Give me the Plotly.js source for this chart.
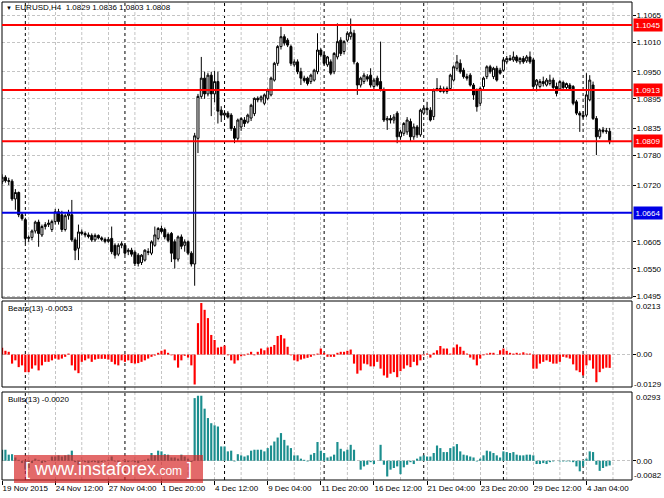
<!DOCTYPE html>
<html>
<head>
<meta charset="utf-8">
<script src="https://cdn.plot.ly/plotly-3.0.1.min.js"></script>
<style>
  html, body { margin: 0; padding: 0; background: #fff; }
  #chart { width: 664px; height: 498px; }
</style>
</head>
<body>
<div id="chart"></div>
<script>
// EURUSD H4, 19 Nov 2015 - 5 Jan 2016, one entry per bar
const open = [
  1.0727,1.0736,1.0729,1.0728,1.0692,1.0705,1.0660,1.0650,1.0612,1.0614,
  1.0627,1.0645,1.0619,1.0636,1.0640,1.0630,1.0646,1.0666,1.0660,1.0630,
  1.0658,1.0660,1.0609,1.0592,1.0625,1.0622,1.0619,1.0618,1.0609,1.0618,
  1.0613,1.0610,1.0606,1.0612,1.0598,1.0580,1.0598,1.0598,1.0585,1.0588,
  1.0584,1.0578,1.0563,1.0568,1.0585,1.0582,1.0598,1.0612,1.0632,1.0630,
  1.0620,1.0622,1.0605,1.0570,1.0615,1.0598,1.0605,1.0582,1.0560,1.0815,
  1.0900,1.0937,1.0905,1.0943,1.0905,1.0930,1.0872,1.0862,1.0866,1.0862,
  1.0835,1.0815,1.0838,1.0852,1.0848,1.0856,1.0865,1.0896,1.0893,1.0886,
  1.0896,1.0903,1.0933,1.0967,1.1001,1.1021,1.1014,1.1001,1.0964,1.0970,
  1.0950,1.0937,1.0937,1.0930,1.0933,1.0950,1.0994,1.0984,1.0964,1.0970,
  1.0950,1.0980,1.1014,1.0991,1.1014,1.1021,1.1028,1.0967,1.0923,1.0930,
  1.0940,1.0943,1.0920,1.0937,1.0930,1.0913,1.0852,1.0855,1.0852,1.0866,
  1.0818,1.0825,1.0828,1.0849,1.0818,1.0838,1.0822,1.0866,1.0876,1.0872,
  1.0859,1.0913,1.0916,1.0910,1.0910,1.0916,1.0933,1.0957,1.0967,1.0953,
  1.0940,1.0943,1.0923,1.0913,1.0886,1.0920,1.0940,1.0960,1.0940,1.0957,
  1.0953,1.0953,1.0970,1.0977,1.0974,1.0980,1.0970,1.0977,1.0972,1.0980,
  1.0974,1.0923,1.0920,1.0930,1.0923,1.0926,1.0933,1.0920,1.0915,1.0928,
  1.0918,1.0923,1.0920,1.0889,1.0866,1.0862,1.0862,1.0893,1.0923,1.0855,
  1.0818,1.0832,1.0829,1.0829
];
const high = [
  1.0742,1.0740,1.0735,1.0732,1.0712,1.0707,1.0664,1.0654,1.0618,1.0630,
  1.0648,1.0650,1.0640,1.0645,1.0650,1.0650,1.0672,1.0672,1.0668,1.0662,
  1.0670,1.0690,1.0614,1.0640,1.0630,1.0626,1.0624,1.0622,1.0622,1.0620,
  1.0616,1.0614,1.0615,1.0636,1.0602,1.0602,1.0606,1.0602,1.0592,1.0593,
  1.0588,1.0582,1.0580,1.0590,1.0592,1.0608,1.0636,1.0635,1.0638,1.0634,
  1.0624,1.0625,1.0610,1.0618,1.0620,1.0610,1.0608,1.0586,1.0826,1.0905,
  1.0980,1.0950,1.0948,1.0950,1.0952,1.0950,1.0880,1.0872,1.0870,1.0866,
  1.0840,1.0855,1.0858,1.0858,1.0865,1.0885,1.0898,1.0900,1.0902,1.0906,
  1.0916,1.0940,1.0970,1.1004,1.1041,1.1026,1.1018,1.1005,1.0975,1.0975,
  1.0958,1.0942,1.0940,1.0946,1.0956,1.1028,1.0998,1.0990,1.0982,1.0975,
  1.0990,1.1048,1.1020,1.1014,1.1032,1.1058,1.1035,1.0970,1.0940,1.0948,
  1.0945,1.0957,1.0937,1.0942,1.1011,1.0918,1.0860,1.0862,1.0864,1.0870,
  1.0832,1.0848,1.0858,1.0855,1.0845,1.0842,1.0875,1.0880,1.0889,1.0878,
  1.0916,1.0937,1.0922,1.0920,1.0920,1.0946,1.0963,1.0984,1.0975,1.0958,
  1.0946,1.0947,1.0927,1.0916,1.0920,1.0940,1.0963,1.0964,1.0960,1.0962,
  1.0958,1.0978,1.0982,1.0984,1.0991,1.0984,1.0980,1.0982,1.0984,1.0991,
  1.0978,1.0935,1.0935,1.0940,1.0937,1.0944,1.0938,1.0928,1.0933,1.0932,
  1.0928,1.0927,1.0923,1.0893,1.0870,1.0870,1.0947,1.0943,1.0930,1.0860,
  1.0835,1.0838,1.0836,1.0836
];
const low = [
  1.0722,1.0725,1.0720,1.0688,1.0670,1.0655,1.0648,1.0602,1.0605,1.0608,
  1.0622,1.0595,1.0615,1.0630,1.0635,1.0625,1.0640,1.0640,1.0625,1.0626,
  1.0650,1.0605,1.0568,1.0568,1.0618,1.0614,1.0612,1.0605,1.0605,1.0610,
  1.0606,1.0602,1.0603,1.0580,1.0571,1.0576,1.0592,1.0578,1.0578,1.0575,
  1.0556,1.0555,1.0558,1.0565,1.0578,1.0578,1.0595,1.0608,1.0622,1.0610,
  1.0604,1.0564,1.0551,1.0565,1.0590,1.0585,1.0578,1.0555,1.0516,1.0785,
  1.0895,1.0895,1.0900,1.0860,1.0888,1.0845,1.0848,1.0858,1.0855,1.0830,
  1.0805,1.0810,1.0830,1.0838,1.0845,1.0850,1.0860,1.0888,1.0888,1.0882,
  1.0892,1.0900,1.0930,1.0962,1.0995,1.1003,1.1000,1.0962,1.0960,1.0945,
  1.0923,1.0928,1.0922,1.0925,1.0930,1.0945,1.0980,1.0963,1.0960,1.0943,
  1.0945,1.0975,1.0982,1.0985,1.1010,1.1015,1.0965,1.0903,1.0918,1.0925,
  1.0930,1.0918,1.0915,1.0920,1.0910,1.0848,1.0832,1.0845,1.0845,1.0805,
  1.0812,1.0820,1.0822,1.0808,1.0812,1.0816,1.0818,1.0862,1.0862,1.0849,
  1.0852,1.0910,1.0908,1.0906,1.0905,1.0912,1.0930,1.0952,1.0946,1.0936,
  1.0932,1.0920,1.0893,1.0869,1.0880,1.0915,1.0935,1.0946,1.0935,1.0930,
  1.0944,1.0950,1.0966,1.0972,1.0970,1.0968,1.0965,1.0966,1.0968,1.0966,
  1.0915,1.0910,1.0916,1.0920,1.0920,1.0922,1.0914,1.0900,1.0912,1.0914,
  1.0915,1.0913,1.0882,1.0862,1.0828,1.0855,1.0858,1.0890,1.0852,1.0781,
  1.0814,1.0825,1.0824,1.0803
];
const close = [
  1.0736,1.0729,1.0728,1.0692,1.0705,1.0660,1.0652,1.0612,1.0614,1.0627,
  1.0645,1.0622,1.0636,1.0640,1.0643,1.0646,1.0666,1.0646,1.0630,1.0658,
  1.0663,1.0609,1.0588,1.0625,1.0622,1.0619,1.0616,1.0609,1.0618,1.0613,
  1.0610,1.0606,1.0610,1.0585,1.0578,1.0598,1.0601,1.0582,1.0588,1.0580,
  1.0561,1.0561,1.0578,1.0588,1.0584,1.0605,1.0619,1.0632,1.0626,1.0615,
  1.0608,1.0582,1.0570,1.0615,1.0596,1.0605,1.0582,1.0560,1.0820,1.0900,
  1.0937,1.0905,1.0943,1.0905,1.0930,1.0870,1.0862,1.0866,1.0858,1.0835,
  1.0815,1.0852,1.0855,1.0845,1.0862,1.0882,1.0896,1.0893,1.0899,1.0903,
  1.0913,1.0937,1.0967,1.1001,1.1021,1.1008,1.1004,1.0967,1.0970,1.0950,
  1.0937,1.0932,1.0926,1.0943,1.0953,1.0994,1.0984,1.0967,1.0980,1.0947,
  1.0987,1.1011,1.0987,1.1011,1.1028,1.1030,1.0970,1.0923,1.0937,1.0943,
  1.0935,1.0923,1.0933,1.0923,1.0913,1.0852,1.0855,1.0852,1.0858,1.0818,
  1.0828,1.0845,1.0852,1.0818,1.0838,1.0822,1.0872,1.0876,1.0873,1.0852,
  1.0913,1.0916,1.0910,1.0915,1.0916,1.0943,1.0960,1.0970,1.0950,1.0940,
  1.0937,1.0923,1.0903,1.0879,1.0916,1.0937,1.0960,1.0950,1.0957,1.0933,
  1.0947,1.0974,1.0977,1.0974,1.0980,1.0972,1.0977,1.0970,1.0980,1.0970,
  1.0920,1.0933,1.0930,1.0926,1.0933,1.0933,1.0918,1.0906,1.0930,1.0918,
  1.0926,1.0916,1.0886,1.0866,1.0862,1.0859,1.0903,1.0933,1.0855,1.0818,
  1.0832,1.0829,1.0830,1.0808
];

// Bears Power (13) and Bulls Power (13)
const bears = [
  0.0027,0.0015,0.0011,-0.0036,-0.0023,-0.0050,-0.0043,-0.0070,-0.0070,-0.0056,
  -0.0043,-0.0063,-0.0043,-0.0029,-0.0029,-0.0023,-0.0016,-0.0020,-0.0016,-0.0009,
  0.0004,-0.0043,-0.0063,-0.0074,-0.0029,-0.0023,-0.0016,-0.0029,-0.0020,-0.0017,
  -0.0017,-0.0017,-0.0020,-0.0029,-0.0039,-0.0043,-0.0023,-0.0029,-0.0023,-0.0034,
  -0.0036,-0.0034,-0.0029,-0.0023,-0.0016,-0.0009,-0.0004,0.0007,0.0015,0.0020,
  0.0007,-0.0003,-0.0023,-0.0052,-0.0023,-0.0005,-0.0012,-0.0043,-0.0119,0.0125,
  0.0205,0.0178,0.0145,0.0078,0.0058,0.0028,0.0031,0.0036,-0.0003,-0.0023,
  -0.0036,-0.0023,-0.0007,-0.0004,0.0004,0.0011,-0.0003,0.0011,0.0024,0.0017,
  0.0028,0.0031,0.0038,0.0074,0.0078,0.0064,0.0031,-0.0003,-0.0023,-0.0027,
  -0.0020,-0.0016,-0.0013,-0.0009,-0.0003,0.0004,0.0024,0.0007,-0.0009,-0.0009,
  -0.0009,0.0007,0.0011,0.0011,0.0015,0.0020,-0.0036,-0.0076,-0.0063,-0.0036,
  -0.0039,-0.0047,-0.0047,-0.0029,-0.0056,-0.0083,-0.0092,-0.0076,-0.0070,-0.0090,
  -0.0066,-0.0056,-0.0043,-0.0050,-0.0029,-0.0043,-0.0023,-0.0003,0.0004,-0.0012,
  0.0007,0.0017,0.0034,0.0024,0.0024,0.0004,0.0028,0.0040,0.0031,0.0015,
  0.0004,-0.0012,-0.0020,-0.0043,-0.0016,-0.0003,0.0004,0.0007,0.0007,0.0001,
  0.0017,0.0024,0.0015,0.0007,0.0004,0.0007,0.0004,0.0009,0.0004,0.0004,
  -0.0056,-0.0056,-0.0036,-0.0029,-0.0023,-0.0029,-0.0036,-0.0036,-0.0029,-0.0009,
  -0.0012,-0.0016,-0.0039,-0.0063,-0.0070,-0.0083,-0.0043,-0.0023,-0.0056,-0.0110,
  -0.0070,-0.0056,-0.0052,-0.0053
];
const bulls = [
  0.0047,0.0047,0.0026,0.0028,0.0014,0.0004,-0.0010,-0.0038,-0.0031,-0.0010,
  0.0009,0.0004,-0.0010,-0.0006,0.0000,0.0018,0.0018,0.0023,0.0018,0.0023,
  0.0026,0.0043,-0.0006,-0.0017,-0.0003,-0.0006,-0.0010,-0.0006,-0.0006,-0.0010,
  -0.0006,-0.0003,0.0004,0.0018,-0.0003,-0.0006,0.0000,-0.0006,-0.0006,-0.0003,
  -0.0006,-0.0010,-0.0003,0.0004,0.0009,0.0033,0.0023,0.0043,0.0040,0.0028,
  0.0026,0.0014,0.0014,0.0009,0.0026,0.0018,0.0009,-0.0006,0.0267,0.0277,
  0.0277,0.0222,0.0182,0.0160,0.0151,0.0146,0.0061,0.0061,0.0040,0.0043,
  -0.0003,0.0028,0.0023,0.0018,0.0023,0.0043,0.0047,0.0047,0.0047,0.0040,
  0.0054,0.0065,0.0082,0.0099,0.0118,0.0089,0.0065,0.0054,0.0023,0.0023,
  0.0009,0.0004,-0.0003,0.0026,0.0033,0.0080,0.0043,0.0033,0.0014,0.0018,
  0.0026,0.0080,0.0051,0.0040,0.0047,0.0068,0.0047,0.0000,-0.0038,-0.0024,
  -0.0017,-0.0006,-0.0014,0.0000,0.0068,-0.0017,-0.0067,-0.0038,-0.0031,-0.0024,
  -0.0057,-0.0028,-0.0017,-0.0006,-0.0014,0.0009,0.0018,0.0023,0.0018,0.0018,
  0.0033,0.0065,0.0054,0.0037,0.0037,0.0054,0.0061,0.0071,0.0040,0.0026,
  0.0023,0.0018,0.0014,-0.0003,0.0009,0.0023,0.0043,0.0040,0.0033,0.0023,
  0.0014,0.0040,0.0037,0.0033,0.0037,0.0026,0.0023,0.0023,0.0026,0.0026,
  0.0023,-0.0014,-0.0014,-0.0010,-0.0014,-0.0006,-0.0003,0.0000,-0.0003,-0.0003,
  -0.0003,-0.0003,-0.0006,-0.0024,-0.0045,-0.0024,0.0009,0.0040,0.0037,-0.0017,
  -0.0043,-0.0031,-0.0024,-0.0020
];

// time axis labels, one every 16 bars
const timeLabels = ["19 Nov 2015", "24 Nov 12:00", "27 Nov 04:00", "1 Dec 20:00",
  "4 Dec 12:00", "9 Dec 04:00", "11 Dec 20:00", "16 Dec 12:00", "21 Dec 04:00",
  "23 Dec 20:00", "29 Dec 12:00", "4 Jan 04:00"];
const labelBars = [0, 16, 32, 48, 64, 80, 96, 112, 128, 144, 160, 176];
// first bar of each trading week (period separators)
const weekStarts = [7, 37, 67, 97, 127, 151, 175];

// price scale labels and horizontal levels
const priceTicks = [1.1065, 1.1010, 1.0950, 1.0895, 1.0835, 1.0780, 1.0720, 1.0605, 1.0550, 1.0495];
const levels = [1.1045, 1.0913, 1.0809, 1.0664];
const levelColors = ["#ff0000", "#ff0000", "#ff0000", "#0000e6"];

const bearsRange = [-0.0129, 0.0213];
const bullsRange = [-0.0082, 0.0293];

const bars = open.map((_, i) => i);
const last = open.length - 1;

// page geometry helpers (pixels -> paper)
const W = 664, H = 498, ML = 2, MR = 32, MT = 2, MB = 18;
const plotW = W - ML - MR, plotH = H - MT - MB;
function px(x) { return (x - ML) / plotW; }
function py(y) { return (H - MB - y) / plotH; }

const mainDom = [py(298), 1];
const bearsDom = [py(387), py(301)];
const bullsDom = [0, py(392)];

const gridColor = "#c4c4c4";
const gridDash = "3px,2px";
const font = { family: "Liberation Sans, Arial, sans-serif", size: 8, color: "#000" };

const candles = {
  type: "candlestick",
  x: bars, open: open, high: high, low: low, close: close,
  xaxis: "x", yaxis: "y",
  increasing: { line: { color: "#000", width: 1 }, fillcolor: "#ffffff" },
  decreasing: { line: { color: "#000", width: 1 }, fillcolor: "#000000" },
  whiskerwidth: 0,
  hoverinfo: "none",
  showlegend: false
};
const bearsTrace = {
  type: "bar", x: bars, y: bears, xaxis: "x", yaxis: "y2",
  marker: { color: "#ff0000", line: { width: 0 } },
  hoverinfo: "none", showlegend: false
};
const bullsTrace = {
  type: "bar", x: bars, y: bulls, xaxis: "x", yaxis: "y3",
  marker: { color: "#1b8e8e", line: { width: 0 } },
  hoverinfo: "none", showlegend: false
};

let shapes = [];
// extra vertical grid between the labelled bars
labelBars.forEach(b => {
  shapes.push({ type: "line", xref: "x", yref: "paper", x0: b + 8, x1: b + 8, y0: 0, y1: 1,
    layer: "below", line: { color: gridColor, width: 1, dash: gridDash } });
});
// period separators
weekStarts.forEach(b => {
  shapes.push({ type: "line", xref: "x", yref: "paper", x0: b, x1: b, y0: 0, y1: 1,
    layer: "below", line: { color: "#000", width: 1, dash: "dot" } });
});
// panel frames
[mainDom, bearsDom, bullsDom].forEach(d => {
  shapes.push({ type: "rect", xref: "paper", yref: "paper", x0: 0, x1: 1, y0: d[0], y1: d[1],
    line: { color: "#000", width: 1 }, fillcolor: "rgba(0,0,0,0)" });
});
// horizontal levels
levels.forEach((lv, i) => {
  shapes.push({ type: "line", xref: "paper", yref: "y", x0: 0, x1: 1, y0: lv, y1: lv,
    line: { color: levelColors[i], width: 2 } });
});
// watermark box
shapes.push({ type: "rect", xref: "paper", yref: "paper", x0: px(14), x1: px(203), y0: py(483), y1: py(455),
  line: { width: 0 }, fillcolor: "rgba(214,36,36,0.68)", layer: "above" });

let annotations = [
  { xref: "paper", yref: "paper", x: px(8.5), y: py(8), text: "▼", showarrow: false,
    font: { family: font.family, size: 6, color: "#000" }, xanchor: "center", yanchor: "middle" },
  { xref: "paper", yref: "paper", x: px(13), y: py(8), showarrow: false, xanchor: "left", yanchor: "middle",
    text: "EURUSD,H4\u00a0\u00a0" + [open[last], high[last], low[last], close[last]].map(v => v.toFixed(4)).join(" "),
    font: font },
  { xref: "paper", yref: "paper", x: px(6), y: py(308), showarrow: false, xanchor: "left", yanchor: "middle",
    text: "Bears(13) " + bears[last].toFixed(4), font: font },
  { xref: "paper", yref: "paper", x: px(6), y: py(399), showarrow: false, xanchor: "left", yanchor: "middle",
    text: "Bulls(13) " + bulls[last].toFixed(4), font: font },
  // indicator window max / min
  { xref: "paper", yref: "paper", x: px(634), y: py(306), showarrow: false, xanchor: "left", yanchor: "middle",
    text: bearsRange[1].toFixed(4), font: font },
  { xref: "paper", yref: "paper", x: px(632), y: py(384), showarrow: false, xanchor: "left", yanchor: "middle",
    text: bearsRange[0].toFixed(4), font: font },
  { xref: "paper", yref: "paper", x: px(634), y: py(397), showarrow: false, xanchor: "left", yanchor: "middle",
    text: bullsRange[1].toFixed(4), font: font },
  { xref: "paper", yref: "paper", x: px(632), y: py(475), showarrow: false, xanchor: "left", yanchor: "middle",
    text: bullsRange[0].toFixed(4), font: font },
  // watermark text
  { xref: "paper", yref: "paper", x: px(108), y: py(469), showarrow: false, xanchor: "center", yanchor: "middle",
    text: "[ www.instaforex<span style=\"font-size:12px\">.com</span> ]",
    font: { family: "Liberation Sans, Arial, sans-serif", size: 18, color: "#ffffff" } }
];
levels.forEach((lv, i) => {
  annotations.push({ xref: "paper", yref: "y", x: 1, y: lv, xanchor: "left", yanchor: "middle", xshift: 1,
    showarrow: false, text: lv.toFixed(4), bgcolor: levelColors[i], borderpad: 1.5,
    font: { family: font.family, size: 8, color: "#ffffff" } });
});

const yCommon = {
  anchor: "x", side: "right", tickmode: "array",
  ticks: "outside", ticklen: 3, tickcolor: "#000", tickfont: font, ticklabelstandoff: -1,
  showgrid: true, gridcolor: gridColor, griddash: gridDash,
  zeroline: false, showline: false, fixedrange: true
};

const layout = {
  width: W, height: H,
  margin: { l: ML, r: MR, t: MT, b: MB, pad: 0 },
  paper_bgcolor: "#ffffff", plot_bgcolor: "#ffffff",
  font: font,
  showlegend: false,
  hovermode: false,
  barmode: "overlay",
  bargap: 0.35,
  boxgap: 0.4, boxgroupgap: 0,
  xaxis: {
    anchor: "y3",
    range: [-0.03, plotW / 3.32 - 0.03],
    tickmode: "array", tickvals: labelBars, ticktext: timeLabels,
    tickangle: 0,
    ticklabelposition: "outside right",
    ticks: "outside", ticklen: 4, tickcolor: "#000", tickfont: font,
    showgrid: true, gridcolor: gridColor, griddash: gridDash, gridwidth: 1,
    zeroline: false, showline: false,
    rangeslider: { visible: false },
    fixedrange: true
  },
  yaxis: Object.assign({}, yCommon, {
    domain: mainDom, range: [1.04911, 1.10914],
    tickvals: priceTicks, ticktext: priceTicks.map(v => v.toFixed(4))
  }),
  yaxis2: Object.assign({}, yCommon, {
    domain: bearsDom, range: bearsRange, tickvals: [0], ticktext: ["0.00"]
  }),
  yaxis3: Object.assign({}, yCommon, {
    domain: bullsDom, range: bullsRange, tickvals: [0], ticktext: ["0.00"]
  }),
  shapes: shapes,
  annotations: annotations
};

Plotly.newPlot("chart", [candles, bearsTrace, bullsTrace], layout, { displayModeBar: false, staticPlot: true });
</script>
</body>
</html>
